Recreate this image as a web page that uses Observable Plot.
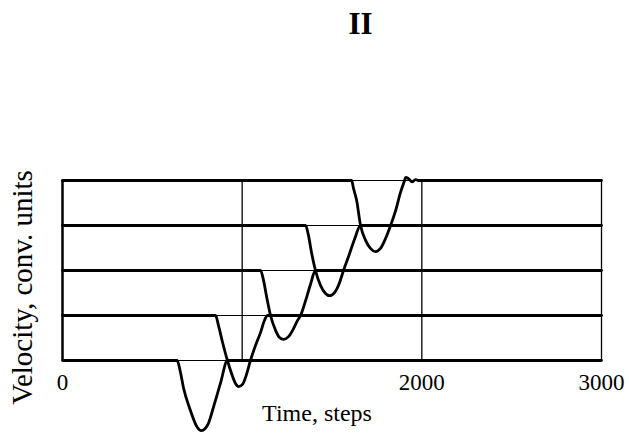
<!DOCTYPE html>
<html>
<head>
<meta charset="utf-8">
<script src="https://cdn.jsdelivr.net/npm/d3@7"></script>
<script src="https://cdn.jsdelivr.net/npm/@observablehq/plot@0.6"></script>
<style>
  html, body { margin: 0; padding: 0; background: #fff; }
  #chart svg { display: block; }
</style>
</head>
<body>
<div id="chart"></div>
<script>
// ---- data ----
const title = "II";
const xLabel = "Time, steps";
const yLabel = "Velocity, conv. units";
const xTickLabels = [0, 2000, 3000];
const xGrid = [1000, 2000, 3000];
const levels = [0, 1, 2, 3, 4];          // vertical offset of each curve (conv. units)

// curve 0 (bottom)
const t0 = [0, 638, 656, 673, 712, 751, 772, 807, 840, 879, 918, 3000];
const v0 = [0, 0, -0.25, -0.60, -1.11, -1.49, -1.56, -1.44, -1.04, -0.51, 0, 0];
// curve 1
const t1 = [0, 852, 868, 891, 918, 941, 963, 980, 1002, 1024, 1046, 1074, 1102, 1124, 1141, 3000];
const v1 = [0, 0, -0.22, -0.60, -1.00, -1.29, -1.51, -1.58, -1.53, -1.31, -1.00, -0.67, -0.38, -0.11, 0, 0];
// curve 2
const t2 = [0, 1102, 1119, 1135, 1158, 1186, 1208, 1230, 1258, 1286, 1308, 1325, 1353, 1380, 1408, 3000];
const v2 = [0, 0, -0.22, -0.56, -1.00, -1.33, -1.49, -1.53, -1.47, -1.29, -1.11, -1.00, -0.67, -0.31, 0, 0];
// curve 3
const t3 = [0, 1353, 1369, 1386, 1408, 1436, 1464, 1486, 1514, 1542, 1564, 1592, 1625, 1659, 3000];
const v3 = [0, 0, -0.22, -0.60, -1.00, -1.33, -1.51, -1.56, -1.49, -1.27, -1.00, -0.69, -0.31, 0, 0];
// curve 4 (top)
const t4 = [0, 1609, 1620, 1637, 1659, 1687, 1714, 1742, 1770, 1798, 1826, 1854, 1881, 1904, 1910, 1926, 1946, 1965, 1981, 3000];
const v4 = [0, 0, -0.18, -0.44, -1.00, -1.33, -1.51, -1.58, -1.51, -1.29, -1.00, -0.67, -0.27, 0, 0.07, 0.04, -0.03, 0.02, 0, 0];

const times = [t0, t1, t2, t3, t4];
const vels = [v0, v1, v2, v3, v4];
const rows = [];
times.forEach((ts, k) => ts.forEach((t, i) => rows.push({curve: k, t, y: levels[k] + vels[k][i]})));

const font = "'Liberation Serif', 'Times New Roman', serif";

const chart = Plot.plot({
  width: 629,
  height: 439,
  marginLeft: 62,
  marginRight: 28,
  marginTop: 180,
  marginBottom: 79,
  style: {fontFamily: font, background: "#fff", color: "#000"},
  x: {domain: [0, 3000], axis: null},
  y: {domain: [0, 4], axis: null},
  marks: [
    Plot.ruleY(levels, {stroke: "#000", strokeWidth: 1}),
    Plot.ruleX(xGrid, {stroke: "#000", strokeWidth: 1.3}),
    Plot.ruleX([0], {stroke: "#000", strokeWidth: 2.5}),
    Plot.line(rows, {x: "t", y: "y", z: "curve", curve: "monotone-x", stroke: "#000", strokeWidth: 2.8}),
    Plot.axisX(xTickLabels, {tickSize: 0, tickPadding: 13, fontSize: 23, fontFamily: font, label: null, tickFormat: d => String(d)}),
    Plot.text([xLabel], {frameAnchor: "bottom", lineAnchor: "bottom", dx: -15, dy: 60, fontSize: 24, fontFamily: font, fill: "#000"}),
    Plot.text([yLabel], {frameAnchor: "left", textAnchor: "middle", lineAnchor: "middle", rotate: -90, dx: -40, dy: 17, fontSize: 29, fontFamily: font, fill: "#000"}),
    Plot.text([title], {frameAnchor: "top", lineAnchor: "bottom", dx: 28.5, dy: -147, fontSize: 31, fontWeight: "bold", fontFamily: font, fill: "#000"})
  ]
});
document.getElementById("chart").appendChild(chart);
</script>
</body>
</html>
